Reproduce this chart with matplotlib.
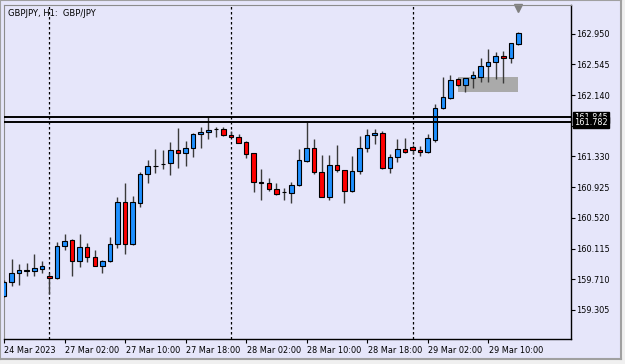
import matplotlib
matplotlib.use("Agg")
import matplotlib.pyplot as plt
from matplotlib.patches import Rectangle
import matplotlib.transforms as mtransforms

# GBPJPY H1 bars, 24 Mar 18:00 .. 29 Mar 14:00
opens = [159.490, 159.678, 159.789, 159.820, 159.823, 159.850, 159.753, 159.723, 160.153, 160.228,
         159.951, 160.140, 160.000, 159.889, 159.951, 160.175, 160.726, 160.175, 160.712, 161.099,
         161.205, 161.232, 161.240, 161.416, 161.372, 161.438, 161.624, 161.650, 161.689, 161.689,
         161.618, 161.591, 161.517, 161.372, 160.990, 160.984, 160.901, 160.858, 160.852, 160.950,
         161.275, 161.438, 161.129, 160.800, 161.218, 161.152, 160.875, 161.139, 161.438, 161.614,
         161.644, 161.174, 161.327, 161.425, 161.451, 161.416, 161.385, 161.548, 161.966, 162.106,
         162.348, 162.273, 162.362, 162.383, 162.528, 162.573, 162.656, 162.625, 162.814]
highs = [159.701, 159.978, 159.912, 159.921, 160.040, 159.955, 159.793, 160.206, 160.307, 160.241,
         160.307, 160.193, 160.096, 159.964, 160.264, 160.792, 160.984, 160.813, 161.129, 161.284,
         161.425, 161.416, 161.517, 161.710, 161.534, 161.636, 161.719, 161.851, 161.719, 161.719,
         161.666, 161.627, 161.534, 161.376, 161.161, 161.042, 160.984, 160.910, 160.997, 161.425,
         161.785, 161.561, 161.350, 161.350, 161.482, 161.155, 161.337, 161.604, 161.689, 161.693,
         161.666, 161.359, 161.561, 161.570, 161.480, 161.472, 161.623, 162.023, 162.383, 162.405,
         162.370, 162.366, 162.458, 162.633, 162.744, 162.705, 162.722, 162.827, 162.972]
lows = [159.476, 159.621, 159.635, 159.753, 159.757, 159.797, 159.516, 159.714, 160.096, 159.757,
        159.876, 159.934, 159.879, 159.797, 159.938, 160.119, 160.040, 160.162, 160.660, 160.976,
        161.108, 161.165, 161.086, 161.174, 161.209, 161.319, 161.438, 161.561, 161.591, 161.607,
        161.581, 161.504, 161.314, 160.858, 160.756, 160.879, 160.822, 160.756, 160.720, 160.945,
        161.261, 161.099, 160.792, 160.756, 161.129, 160.720, 160.858, 161.099, 161.385, 161.495,
        161.170, 161.108, 161.261, 161.382, 161.360, 161.337, 161.376, 161.525, 161.960, 162.085,
        162.260, 162.177, 162.238, 162.309, 162.317, 162.352, 162.296, 162.559, 162.801]
closes = [159.678, 159.797, 159.833, 159.826, 159.855, 159.885, 159.723, 160.153, 160.215, 159.951,
          160.140, 160.008, 159.889, 159.951, 160.175, 160.726, 160.175, 160.726, 161.095, 161.205,
          161.210, 161.236, 161.416, 161.372, 161.438, 161.627, 161.653, 161.676, 161.692, 161.614,
          161.591, 161.512, 161.363, 160.990, 160.986, 160.901, 160.835, 160.855, 160.954, 161.280,
          161.438, 161.121, 160.800, 161.218, 161.152, 160.875, 161.139, 161.438, 161.614, 161.644,
          161.174, 161.327, 161.429, 161.385, 161.412, 161.385, 161.570, 161.966, 162.119, 162.339,
          162.273, 162.362, 162.405, 162.528, 162.581, 162.656, 162.625, 162.823, 162.963]

time_ticks = [0, 8, 16, 24, 32, 40, 48, 56, 64]
time_labels = ["24 Mar 2023", "27 Mar 02:00", "27 Mar 10:00", "27 Mar 18:00", "28 Mar 02:00",
               "28 Mar 10:00", "28 Mar 18:00", "29 Mar 02:00", "29 Mar 10:00"]
price_ticks = [159.305, 159.710, 160.115, 160.520, 160.925, 161.330, 161.735, 162.140, 162.545, 162.950]
day_breaks = [6, 30, 54]
hlines = [161.845, 161.782]
zone_bars = [60, 68]
zone_prices = [162.177, 162.383]

W, H = 625, 364
BG = "#E6E6FA"
fig = plt.figure(figsize=(W / 100, H / 100), dpi=100, facecolor="#F0F0F0")

# lavender chart window behind everything
back = fig.add_axes([0, 1 - 359 / H, 621 / W, 359 / H], zorder=-5)
back.set_facecolor(BG)
back.set_xticks([])
back.set_yticks([])
for s in back.spines.values():
    s.set_color("#A0A0A0")
    s.set_linewidth(1.5)

ax = fig.add_axes([4 / W, 1 - 339.3 / H, (570.7 - 4) / W, (339.3 - 5) / H])
ax.set_facecolor(BG)
ax.set_xlim(0.053, 74.91)
ax.set_ylim(158.918, 163.329)

# zone box
ax.add_patch(Rectangle((zone_bars[0], zone_prices[0]), zone_bars[1] - zone_bars[0],
                       zone_prices[1] - zone_prices[0], facecolor="#AAAAAA", edgecolor="none", zorder=1))

for x in day_breaks:
    ax.axvline(x, color="black", lw=0.9, ls=(0, (2, 2)), zorder=2)

for i, (o, h, l, c) in enumerate(zip(opens, highs, lows, closes)):
    ax.vlines(i, l, h, color="#3A3A3A", lw=1.0, zorder=3)
    col = "#1E90FF" if c >= o else "#FF0000"
    ax.bar(i, max(abs(c - o), 0.004), bottom=min(o, c), width=0.6, color=col,
           edgecolor="black", lw=0.8, zorder=4)

for p in hlines:
    ax.axhline(p, color="black", lw=1.4, zorder=5)

# chart shift marker
trans = mtransforms.blended_transform_factory(ax.transData, ax.transAxes)
ax.plot([68], [0.99], marker="v", color="#808080", ms=6, transform=trans, clip_on=False)

ax.set_xticks(time_ticks)
ax.set_xticklabels(time_labels, ha="left", fontsize=5.9)
ax.yaxis.tick_right()
ax.set_yticks(price_ticks)
ax.set_yticklabels([f"{p:.3f}" for p in price_ticks], fontsize=5.9)
ax.tick_params(axis="x", direction="out", length=3, width=0.8, pad=1.5)
ax.tick_params(axis="y", direction="out", length=3, width=0.8, pad=1)
offset = mtransforms.ScaledTranslation(0.5 / 100, 0, fig.dpi_scale_trans)
for lbl in ax.get_xticklabels():
    lbl.set_transform(lbl.get_transform() + offset)

for side in ["left", "top"]:
    ax.spines[side].set_color("#8C8C8C")
    ax.spines[side].set_linewidth(0.8)
for side in ["right", "bottom"]:
    ax.spines[side].set_color("black")
    ax.spines[side].set_linewidth(1.0)

# current price boxes on the price scale
ytr = mtransforms.blended_transform_factory(ax.transAxes, ax.transData)
for p in hlines:
    ax.text(1.006, p, f"{p:.3f}", transform=ytr, fontsize=5.9, color="white", va="center",
            ha="left", zorder=10, clip_on=False,
            bbox=dict(boxstyle="square,pad=0.15", facecolor="black", edgecolor="black"))

fig.text(8 / W, 1 - 13 / H, "GBPJPY, H1:  GBP/JPY", fontsize=6, va="center", ha="left")

fig.savefig("out.png", dpi=100, facecolor=fig.get_facecolor())
